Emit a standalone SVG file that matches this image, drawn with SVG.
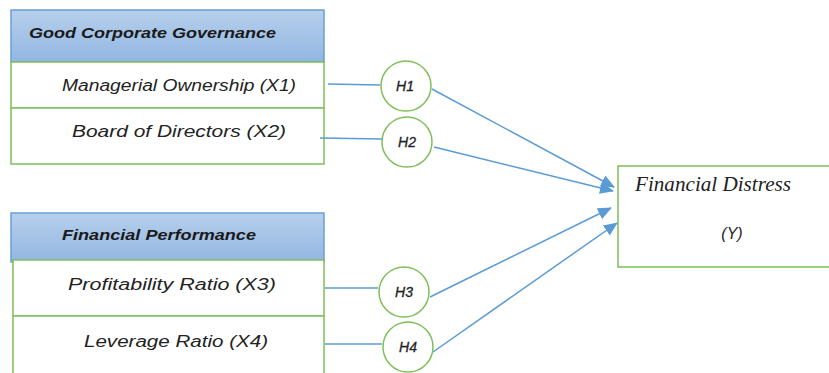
<svg xmlns="http://www.w3.org/2000/svg" width="829" height="373" viewBox="0 0 829 373">
<style>
.hdr{stroke:#6a9fd6;stroke-width:1.5;fill:url(#g)}
.row{fill:#fff;stroke:#7fbf5a;stroke-width:1.5}
.circ{fill:#fff;stroke:#7fbf5a;stroke-width:1.5}
.ht{font-family:"Liberation Sans",Arial,sans-serif;font-style:italic;font-weight:bold;font-size:15px;fill:#1a1a1a}
.rt{font-family:"Liberation Sans",Arial,sans-serif;font-style:italic;font-size:16px;fill:#222}
.ct{font-family:"Liberation Sans",Arial,sans-serif;font-style:italic;font-size:14px;fill:#222;stroke:#222;stroke-width:0.3;text-anchor:middle}
.yt{font-family:"Liberation Sans",Arial,sans-serif;font-style:italic;font-size:16px;fill:#222;text-anchor:middle}
.ft{font-family:"Liberation Serif","Times New Roman",serif;font-style:italic;font-size:20px;fill:#222}
.con{stroke:#5b9bd5;stroke-width:1.5;fill:none}
</style>
<defs>
<linearGradient id="g" x1="0" y1="0" x2="0" y2="1">
<stop offset="0" stop-color="#b7d0ec"/>
<stop offset="1" stop-color="#92b6e2"/>
</linearGradient>
<marker id="ah" markerWidth="14" markerHeight="12" refX="13" refY="6" orient="auto" markerUnits="userSpaceOnUse">
<path d="M0,0 L14,6 L0,12 Z" fill="#5b9bd5"/>
</marker>
</defs>
<g id="gcg">
<rect class="hdr" x="11" y="10" width="313" height="52"/>
<text class="ht" x="29" y="38" textLength="247" lengthAdjust="spacingAndGlyphs">Good Corporate Governance</text>
</g>
<g id="x1">
<rect class="row" x="11" y="62" width="313" height="46"/>
<text class="rt" x="62" y="91" textLength="234" lengthAdjust="spacingAndGlyphs">Managerial Ownership (X1)</text>
</g>
<g id="x2">
<rect class="row" x="11" y="108" width="313" height="56"/>
<text class="rt" x="72" y="137" textLength="214" lengthAdjust="spacingAndGlyphs">Board of Directors (X2)</text>
</g>
<g id="fp">
<rect class="hdr" x="11" y="213" width="313" height="49"/>
<text class="ht" x="62" y="240" textLength="194" lengthAdjust="spacingAndGlyphs">Financial Performance</text>
</g>
<g id="x3">
<rect class="row" x="13" y="260" width="311" height="56"/>
<text class="rt" x="68" y="290" textLength="208" lengthAdjust="spacingAndGlyphs">Profitability Ratio (X3)</text>
</g>
<g id="x4">
<rect class="row" x="13" y="316" width="311" height="60"/>
<text class="rt" x="84" y="347" textLength="184" lengthAdjust="spacingAndGlyphs">Leverage Ratio (X4)</text>
</g>
<g id="y">
<rect class="row" x="618" y="166" width="220" height="101"/>
<text class="ft" x="635" y="191" textLength="156" lengthAdjust="spacingAndGlyphs">Financial Distress</text>
<text class="yt" x="732" y="239">(Y)</text>
</g>
<g id="connectors">
<line class="con" x1="328" y1="84" x2="380" y2="85"/>
<line class="con" x1="320" y1="138" x2="382" y2="139"/>
<line class="con" x1="325" y1="288" x2="378" y2="288"/>
<line class="con" x1="325" y1="344" x2="382" y2="344"/>
<line class="con" x1="432" y1="89" x2="614" y2="187" marker-end="url(#ah)"/>
<line class="con" x1="434" y1="147" x2="613" y2="191" marker-end="url(#ah)"/>
<line class="con" x1="430" y1="297" x2="611" y2="208" marker-end="url(#ah)"/>
<line class="con" x1="433" y1="352" x2="617" y2="223" marker-end="url(#ah)"/>
</g>
<g id="h1">
<circle class="circ" cx="406" cy="86" r="25"/>
<text class="ct" x="405" y="91">H1</text>
</g>
<g id="h2">
<circle class="circ" cx="407" cy="142" r="25"/>
<text class="ct" x="407" y="147">H2</text>
</g>
<g id="h3">
<circle class="circ" cx="404" cy="292" r="25"/>
<text class="ct" x="404" y="297">H3</text>
</g>
<g id="h4">
<circle class="circ" cx="408" cy="347" r="25"/>
<text class="ct" x="408" y="352">H4</text>
</g>
</svg>
